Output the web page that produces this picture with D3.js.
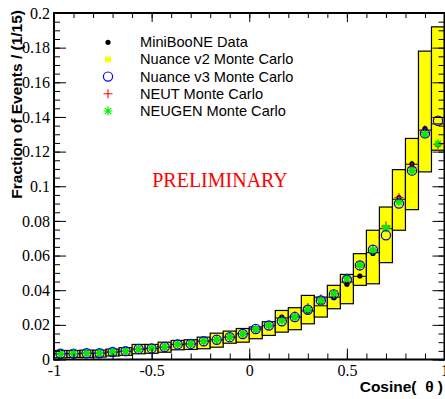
<!DOCTYPE html>
<html>
<head>
<meta charset="utf-8">
<script src="https://cdn.jsdelivr.net/npm/d3@7"></script>
<style>
  body { margin: 0; background: #fff; }
  svg { display: block; }
  .tick text { font-family: "Liberation Serif", "Times New Roman", serif; font-size: 16px; fill: #000; }
  .tick line { stroke: #000; stroke-width: 1; }
</style>
</head>
<body>
<div id="chart"></div>
<script>
var svgWidth = 445;
var svgHeight = 399;

var margin = { top: 13, right: 0.5, bottom: 39.5, left: 54 };

// bin edges: 30 bins of width 1/15 from -1 to 1
var binLow = d3.range(30).map(i => -1 + i / 15);

// Nuance v2 band (low, central, high)
var v2Low = [0.0010, 0.0012, 0.0012, 0.0014, 0.0020, 0.0024, 0.0033, 0.0036, 0.0042, 0.0056,
  0.0058, 0.0062, 0.0071, 0.0094, 0.0100, 0.0120, 0.0139, 0.0158, 0.0172, 0.0206,
  0.0245, 0.0293, 0.0322, 0.0428, 0.0437, 0.0559, 0.0746, 0.0865, 0.1083, 0.1208];
var v2Mid = [0.0033, 0.0034, 0.0036, 0.0037, 0.0043, 0.0048, 0.0060, 0.0064, 0.0071, 0.0087,
  0.0090, 0.0106, 0.0114, 0.0129, 0.0148, 0.0175, 0.0195, 0.0240, 0.0245, 0.0280,
  0.0310, 0.0360, 0.0447, 0.0480, 0.0617, 0.0755, 0.0925, 0.1127, 0.1324, 0.1360];
var v2High = [0.0052, 0.0052, 0.0054, 0.0054, 0.0060, 0.0068, 0.0087, 0.0087, 0.0100, 0.0110,
  0.0114, 0.0129, 0.0152, 0.0164, 0.0179, 0.0188, 0.0218, 0.0283, 0.0299, 0.0370,
  0.0360, 0.0428, 0.0491, 0.0611, 0.0746, 0.0880, 0.1096, 0.1276, 0.1780, 0.1920];

// MiniBooNE data with errors
var dataVal = [0.0033, 0.0034, 0.0036, 0.0037, 0.0043, 0.0048, 0.0060, 0.0064, 0.0071, 0.0087,
  0.0090, 0.0106, 0.0114, 0.0130, 0.0148, 0.0175, 0.0195, 0.0245, 0.0245, 0.0279,
  0.0335, 0.0357, 0.0434, 0.0482, 0.0612, 0.0760, 0.0935, 0.1130, 0.1333, 0.1240];
var dataErr = [0.0004, 0.0004, 0.0004, 0.0004, 0.0004, 0.0005, 0.0005, 0.0005, 0.0005, 0.0006,
  0.0006, 0.0006, 0.0006, 0.0007, 0.0007, 0.0008, 0.0008, 0.0009, 0.0009, 0.0010,
  0.0010, 0.0011, 0.0012, 0.0013, 0.0014, 0.0015, 0.0016, 0.0017, 0.0018, 0.0018];

var nuanceV3 = [0.0033, 0.0034, 0.0036, 0.0036, 0.0043, 0.0048, 0.0061, 0.0064, 0.0072, 0.0087,
  0.0090, 0.0105, 0.0114, 0.0129, 0.0147, 0.0176, 0.0196, 0.0221, 0.0245, 0.0287,
  0.0341, 0.0376, 0.0461, 0.0543, 0.0634, 0.0717, 0.0900, 0.1090, 0.1305, 0.1378];
var neut = [0.0032, 0.0033, 0.0036, 0.0037, 0.0044, 0.0049, 0.0060, 0.0065, 0.0071, 0.0088,
  0.0091, 0.0107, 0.0115, 0.0130, 0.0150, 0.0176, 0.0197, 0.0235, 0.0252, 0.0300,
  0.0350, 0.0380, 0.0470, 0.0540, 0.0630, 0.0770, 0.0935, 0.1110, 0.1310, 0.1240];
var neugen = [0.0033, 0.0034, 0.0036, 0.0037, 0.0044, 0.0049, 0.0061, 0.0065, 0.0072, 0.0088,
  0.0091, 0.0106, 0.0115, 0.0130, 0.0149, 0.0176, 0.0197, 0.0225, 0.0245, 0.0290,
  0.0340, 0.0380, 0.0470, 0.0545, 0.0630, 0.0760, 0.0910, 0.1090, 0.1300, 0.1245];

var xMajor = [-1, -0.5, 0, 0.5, 1];
var xMinor = d3.range(-10, 11).map(d => d / 10);
var yMajor = [0, 0.02, 0.04, 0.06, 0.08, 0.1, 0.12, 0.14, 0.16, 0.18, 0.2];
var yMinor = d3.range(0, 41).map(d => d * 0.005);

var legendLabels = ["MiniBooNE Data", "Nuance v2 Monte Carlo", "Nuance v3 Monte Carlo",
  "NEUT Monte Carlo", "NEUGEN Monte Carlo"];

var width = svgWidth - margin.left - margin.right;
var height = svgHeight - margin.top - margin.bottom;

var svg = d3.select("#chart")
  .append("svg")
  .attr("width", svgWidth)
  .attr("height", svgHeight);

var chartGroup = svg.append("g")
  .attr("transform", `translate(${margin.left}, ${margin.top})`);

var x = d3.scaleLinear().domain([-1, 1]).range([0, width]);
var y = d3.scaleLinear().domain([0, 0.2]).range([height, 0]);

// plain hyphen instead of unicode minus, like the original plot
var fmt = d => String(+d.toFixed(3));

var bins = binLow.map((lo, i) => ({
  lo: lo, hi: lo + 1 / 15, c: lo + 1 / 30,
  low: v2Low[i], mid: v2Mid[i], high: v2High[i],
  d: dataVal[i], e: dataErr[i], v3: nuanceV3[i], nt: neut[i], ng: neugen[i]
}));

// yellow Nuance v2 bands
var band = chartGroup.selectAll(".band")
  .data(bins)
  .enter()
  .append("g")
  .classed("band", true);

band.append("rect")
  .attr("x", d => x(d.lo))
  .attr("width", d => x(d.hi) - x(d.lo))
  .attr("y", d => y(d.high))
  .attr("height", d => y(d.low) - y(d.high))
  .attr("fill", "#ffff00")
  .attr("stroke", "#000")
  .attr("stroke-width", 1.2);

band.append("line")
  .attr("x1", d => x(d.lo))
  .attr("x2", d => x(d.hi))
  .attr("y1", d => y(d.mid))
  .attr("y2", d => y(d.mid))
  .attr("stroke", "#000")
  .attr("stroke-width", 1);

// marker drawing helpers
function drawDot(g, cx, cy) {
  g.append("circle").attr("cx", cx).attr("cy", cy).attr("r", 2.6).attr("fill", "#000");
}
function drawCircle(g, cx, cy) {
  g.append("circle").attr("cx", cx).attr("cy", cy).attr("r", 4.6)
    .attr("fill", "none").attr("stroke", "#0000ff").attr("stroke-width", 1.2);
}
function drawPlus(g, cx, cy) {
  var s = 4.5;
  g.append("path")
    .attr("d", `M${cx - s},${cy}H${cx + s}M${cx},${cy - s}V${cy + s}`)
    .attr("stroke", "#ff0000").attr("stroke-width", 1.1).attr("fill", "none");
}
function drawStar(g, cx, cy) {
  var s = 4.5, t = s * 0.72;
  g.append("circle").attr("cx", cx).attr("cy", cy).attr("r", 3).attr("fill", "#00ee00");
  g.append("path")
    .attr("d", `M${cx - s},${cy}H${cx + s}M${cx},${cy - s}V${cy + s}` +
      `M${cx - t},${cy - t}L${cx + t},${cy + t}M${cx - t},${cy + t}L${cx + t},${cy - t}`)
    .attr("stroke", "#00ee00").attr("stroke-width", 1.1).attr("fill", "none");
}

var pts = chartGroup.append("g");

// data error bars and dots
bins.forEach(function(d) {
  pts.append("line")
    .attr("x1", x(d.c)).attr("x2", x(d.c))
    .attr("y1", y(d.d - d.e)).attr("y2", y(d.d + d.e))
    .attr("stroke", "#000").attr("stroke-width", 1);
  drawDot(pts, x(d.c), y(d.d));
});
bins.forEach(d => drawPlus(pts, x(d.c), y(d.nt)));
bins.forEach(d => drawStar(pts, x(d.c), y(d.ng)));
bins.forEach(d => drawCircle(pts, x(d.c), y(d.v3)));

// axes
function styleAxis(g) {
  g.select(".domain").remove();
}

chartGroup.append("g")
  .call(d3.axisLeft(y).tickValues(yMinor).tickSize(-6).tickFormat(""))
  .call(styleAxis);
chartGroup.append("g")
  .call(d3.axisLeft(y).tickValues(yMajor).tickSize(-12).tickPadding(4).tickFormat(fmt))
  .call(styleAxis);

chartGroup.append("g")
  .attr("transform", `translate(${width}, 0)`)
  .call(d3.axisRight(y).tickValues(yMinor).tickSize(-6).tickFormat(""))
  .call(styleAxis);
chartGroup.append("g")
  .attr("transform", `translate(${width}, 0)`)
  .call(d3.axisRight(y).tickValues(yMajor).tickSize(-12).tickFormat(""))
  .call(styleAxis);

chartGroup.append("g")
  .attr("transform", `translate(0, ${height})`)
  .call(d3.axisBottom(x).tickValues(xMinor).tickSize(-6).tickFormat(""))
  .call(styleAxis);
chartGroup.append("g")
  .attr("transform", `translate(0, ${height})`)
  .call(d3.axisBottom(x).tickValues(xMajor).tickSize(-11).tickPadding(5).tickFormat(fmt))
  .call(styleAxis);

chartGroup.append("g")
  .call(d3.axisTop(x).tickValues(xMinor).tickSize(-5).tickFormat(""))
  .call(styleAxis);
chartGroup.append("g")
  .call(d3.axisTop(x).tickValues(xMajor).tickSize(-9).tickFormat(""))
  .call(styleAxis);

// frame
chartGroup.append("rect")
  .attr("x", 0).attr("y", 0)
  .attr("width", width).attr("height", height)
  .attr("fill", "none")
  .attr("stroke", "#000")
  .attr("stroke-width", 2);

// axis titles
svg.append("text")
  .attr("transform", "translate(22, 10) rotate(-90)")
  .attr("text-anchor", "end")
  .attr("font-family", "'Liberation Sans', Arial, sans-serif")
  .attr("font-weight", "bold")
  .attr("font-size", 15.5)
  .text("Fraction of Events / (1/15)");

svg.append("text")
  .attr("x", 443)
  .attr("y", 392)
  .attr("text-anchor", "end")
  .attr("font-family", "'Liberation Sans', Arial, sans-serif")
  .attr("font-weight", "bold")
  .attr("font-size", 15.5)
  .attr("xml:space", "preserve")
  .text("Cosine(  θ )");

// PRELIMINARY stamp
svg.append("text")
  .attr("x", 220)
  .attr("y", 187)
  .attr("text-anchor", "middle")
  .attr("font-family", "'Liberation Serif', 'Times New Roman', serif")
  .attr("font-size", 20)
  .attr("fill", "#ff0000")
  .text("PRELIMINARY");

// legend
var legend = svg.append("g");
var legY = [42.3, 59.4, 76.6, 93.8, 111];
var mx = 108;
drawDot(legend, mx, legY[0]);
legend.append("rect").attr("x", mx - 3).attr("y", legY[1] - 3).attr("width", 6).attr("height", 6).attr("fill", "#ffff00");
drawCircle(legend, mx, legY[2]);
drawPlus(legend, mx, legY[3]);
legend.append("path")
  .attr("d", `M${mx - 4.5},${legY[4]}H${mx + 4.5}M${mx},${legY[4] - 4.5}V${legY[4] + 4.5}` +
    `M${mx - 3.2},${legY[4] - 3.2}L${mx + 3.2},${legY[4] + 3.2}M${mx - 3.2},${legY[4] + 3.2}L${mx + 3.2},${legY[4] - 3.2}`)
  .attr("stroke", "#00ee00").attr("stroke-width", 1.2).attr("fill", "none");

legend.selectAll(".legText")
  .data(legendLabels)
  .enter()
  .append("text")
  .attr("x", 140)
  .attr("y", (d, i) => legY[i] + 5)
  .attr("font-family", "'Liberation Sans', Arial, sans-serif")
  .attr("font-size", 14.6)
  .text(d => d);
</script>
</body>
</html>
